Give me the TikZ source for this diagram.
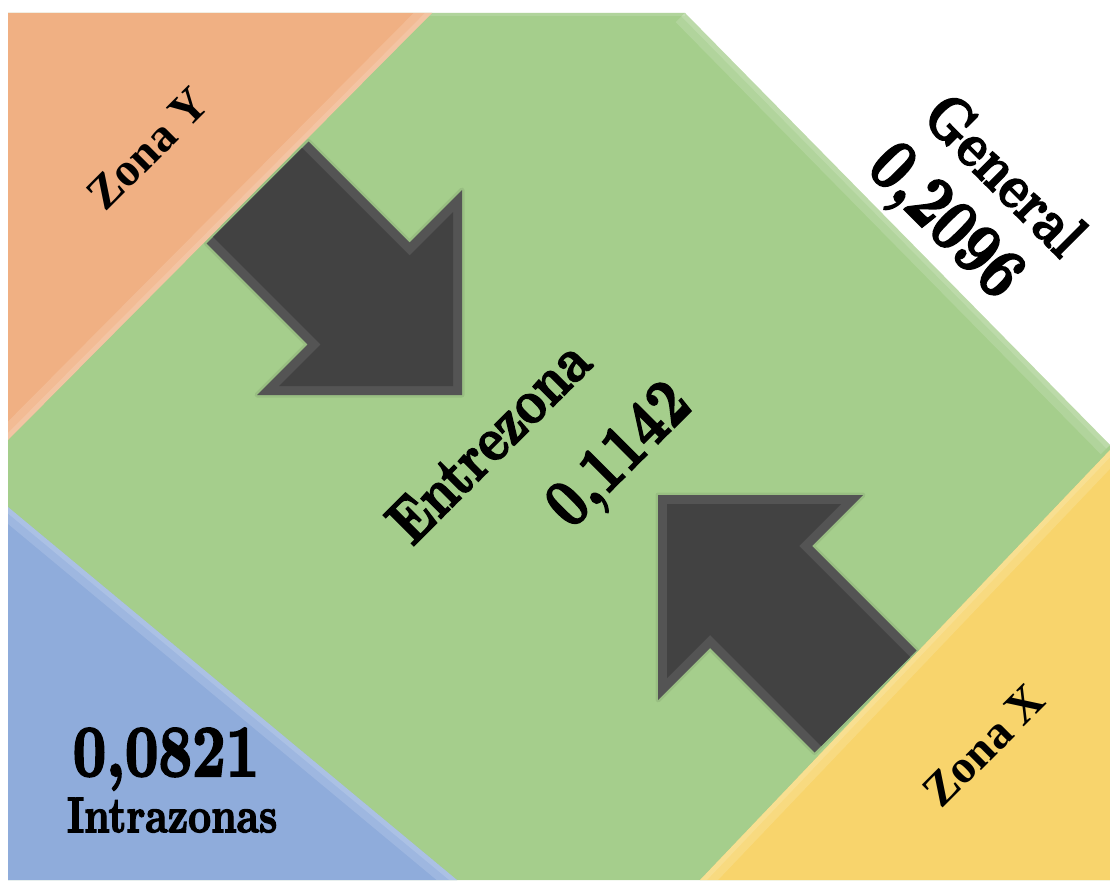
\documentclass[tikz,border=0pt]{standalone}
\usepackage{fontspec}
\usepackage{graphicx}
\newfontfamily\zonafont{Liberation Serif}
\newfontfamily\bodfont{lmroman10-bold}[Extension=.otf, FakeBold=3]
\definecolor{greenc}{HTML}{A5CE8C}
\definecolor{orangec}{HTML}{F0B083}
\definecolor{bluec}{HTML}{8FACDB}
\definecolor{yellowc}{HTML}{F8D46C}
\definecolor{arrowc}{HTML}{424242}
\definecolor{bevelc}{HTML}{545454}
\newcommand{\bodtext}[2]{\scalebox{0.8}[1]{\fontsize{#1}{#1}\bodfont #2}}
\newcommand{\zonatext}[1]{{\fontsize{47}{47}\zonafont\bfseries #1}}
\begin{document}
\begin{tikzpicture}[x=1pt,y=-1pt,
  lbl/.style={inner sep=0pt, text depth=0pt},
  glow/.style={white, opacity=0.14},
  soft/.style={black, opacity=0.07, line width=5pt, line join=round}]
\useasboundingbox (0,0) rectangle (1110,880);
\fill[white] (0,0) rectangle (1110,880);

% green central area
\fill[greenc] (8,13) -- (685,13) -- (1110,445) -- (1110,880) -- (8,880) -- cycle;
\begin{scope}
  \clip (8,13) -- (685,13) -- (1110,445) -- (1110,880) -- (8,880) -- cycle;
  \draw[glow, line width=26pt] (685,13) -- (1110,445);
  \draw[glow, line width=10pt] (685,13) -- (1110,445);
  \draw[glow, line width=6pt] (8,13) -- (685,13);
\end{scope}

% arrow 1 (down-right)
\draw[soft] (308.5,141.5) -- (409.5,242.5) -- (462,190) -- (462,395) -- (257,395) -- (307.5,344.5) -- (206.5,243.5) -- cycle;
\fill[bevelc] (308.5,141.5) -- (409.5,242.5) -- (462,190) -- (462,395) -- (257,395) -- (307.5,344.5) -- (206.5,243.5) -- cycle;
\fill[arrowc] (302,148) -- (409.5,255.5) -- (453,212) -- (453,386) -- (279,386) -- (320.5,344.5) -- (213,237) -- cycle;

% arrow 2 (up-left)
\draw[soft] (658,495) -- (863,495) -- (812,546) -- (916.5,650.5) -- (814.5,752.5) -- (710,648) -- (658,700) -- cycle;
\fill[bevelc] (658,495) -- (863,495) -- (812,546) -- (916.5,650.5) -- (814.5,752.5) -- (710,648) -- (658,700) -- cycle;
\fill[arrowc] (667,504) -- (841,504) -- (799,546) -- (910,657) -- (821,746) -- (710,635) -- (667,678) -- cycle;

% orange triangle (Zona Y)
\fill[orangec] (8,13) -- (432,13) -- (8,440) -- cycle;
\begin{scope}
  \clip (8,13) -- (432,13) -- (8,440) -- cycle;
  \draw[glow, line width=26pt] (432,13) -- (8,440);
  \draw[glow, line width=10pt] (432,13) -- (8,440);
\end{scope}

% blue triangle (Intrazonas)
\fill[bluec] (8,507) -- (457,880) -- (8,880) -- cycle;
\begin{scope}
  \clip (8,507) -- (457,880) -- (8,880) -- cycle;
  \draw[glow, line width=26pt] (8,507) -- (457,880);
  \draw[glow, line width=10pt] (8,507) -- (457,880);
\end{scope}

% yellow triangle (Zona X)
\fill[yellowc] (1110,450) -- (1110,880) -- (700,880) -- cycle;
\begin{scope}
  \clip (1110,450) -- (1110,880) -- (700,880) -- cycle;
  \draw[glow, line width=26pt] (1110,450) -- (700,880);
  \draw[glow, line width=10pt] (1110,450) -- (700,880);
\end{scope}

% labels
\node[lbl, rotate=45] (zonaY) at (148,149) {\zonatext{Zona Y}};
\node[lbl, rotate=45] (zonaX) at (984,746) {\zonatext{Zona X}};
\node[lbl, rotate=-45] (general) at (1006,174) {\bodtext{63}{General}};
\node[lbl, rotate=-45] (generalval) at (948,219) {\bodtext{73}{0,2096}};
\node[lbl, rotate=45] (entre) at (488,441) {\bodtext{63}{Entrezona}};
\node[lbl, rotate=45] (entreval) at (617,453) {\bodtext{68}{0,1142}};
\node[lbl] (intraval) at (166,752) {\bodtext{73}{0,0821}};
\node[lbl] (intra) at (172,815) {\bodtext{50}{Intrazonas}};
\end{tikzpicture}
\end{document}
